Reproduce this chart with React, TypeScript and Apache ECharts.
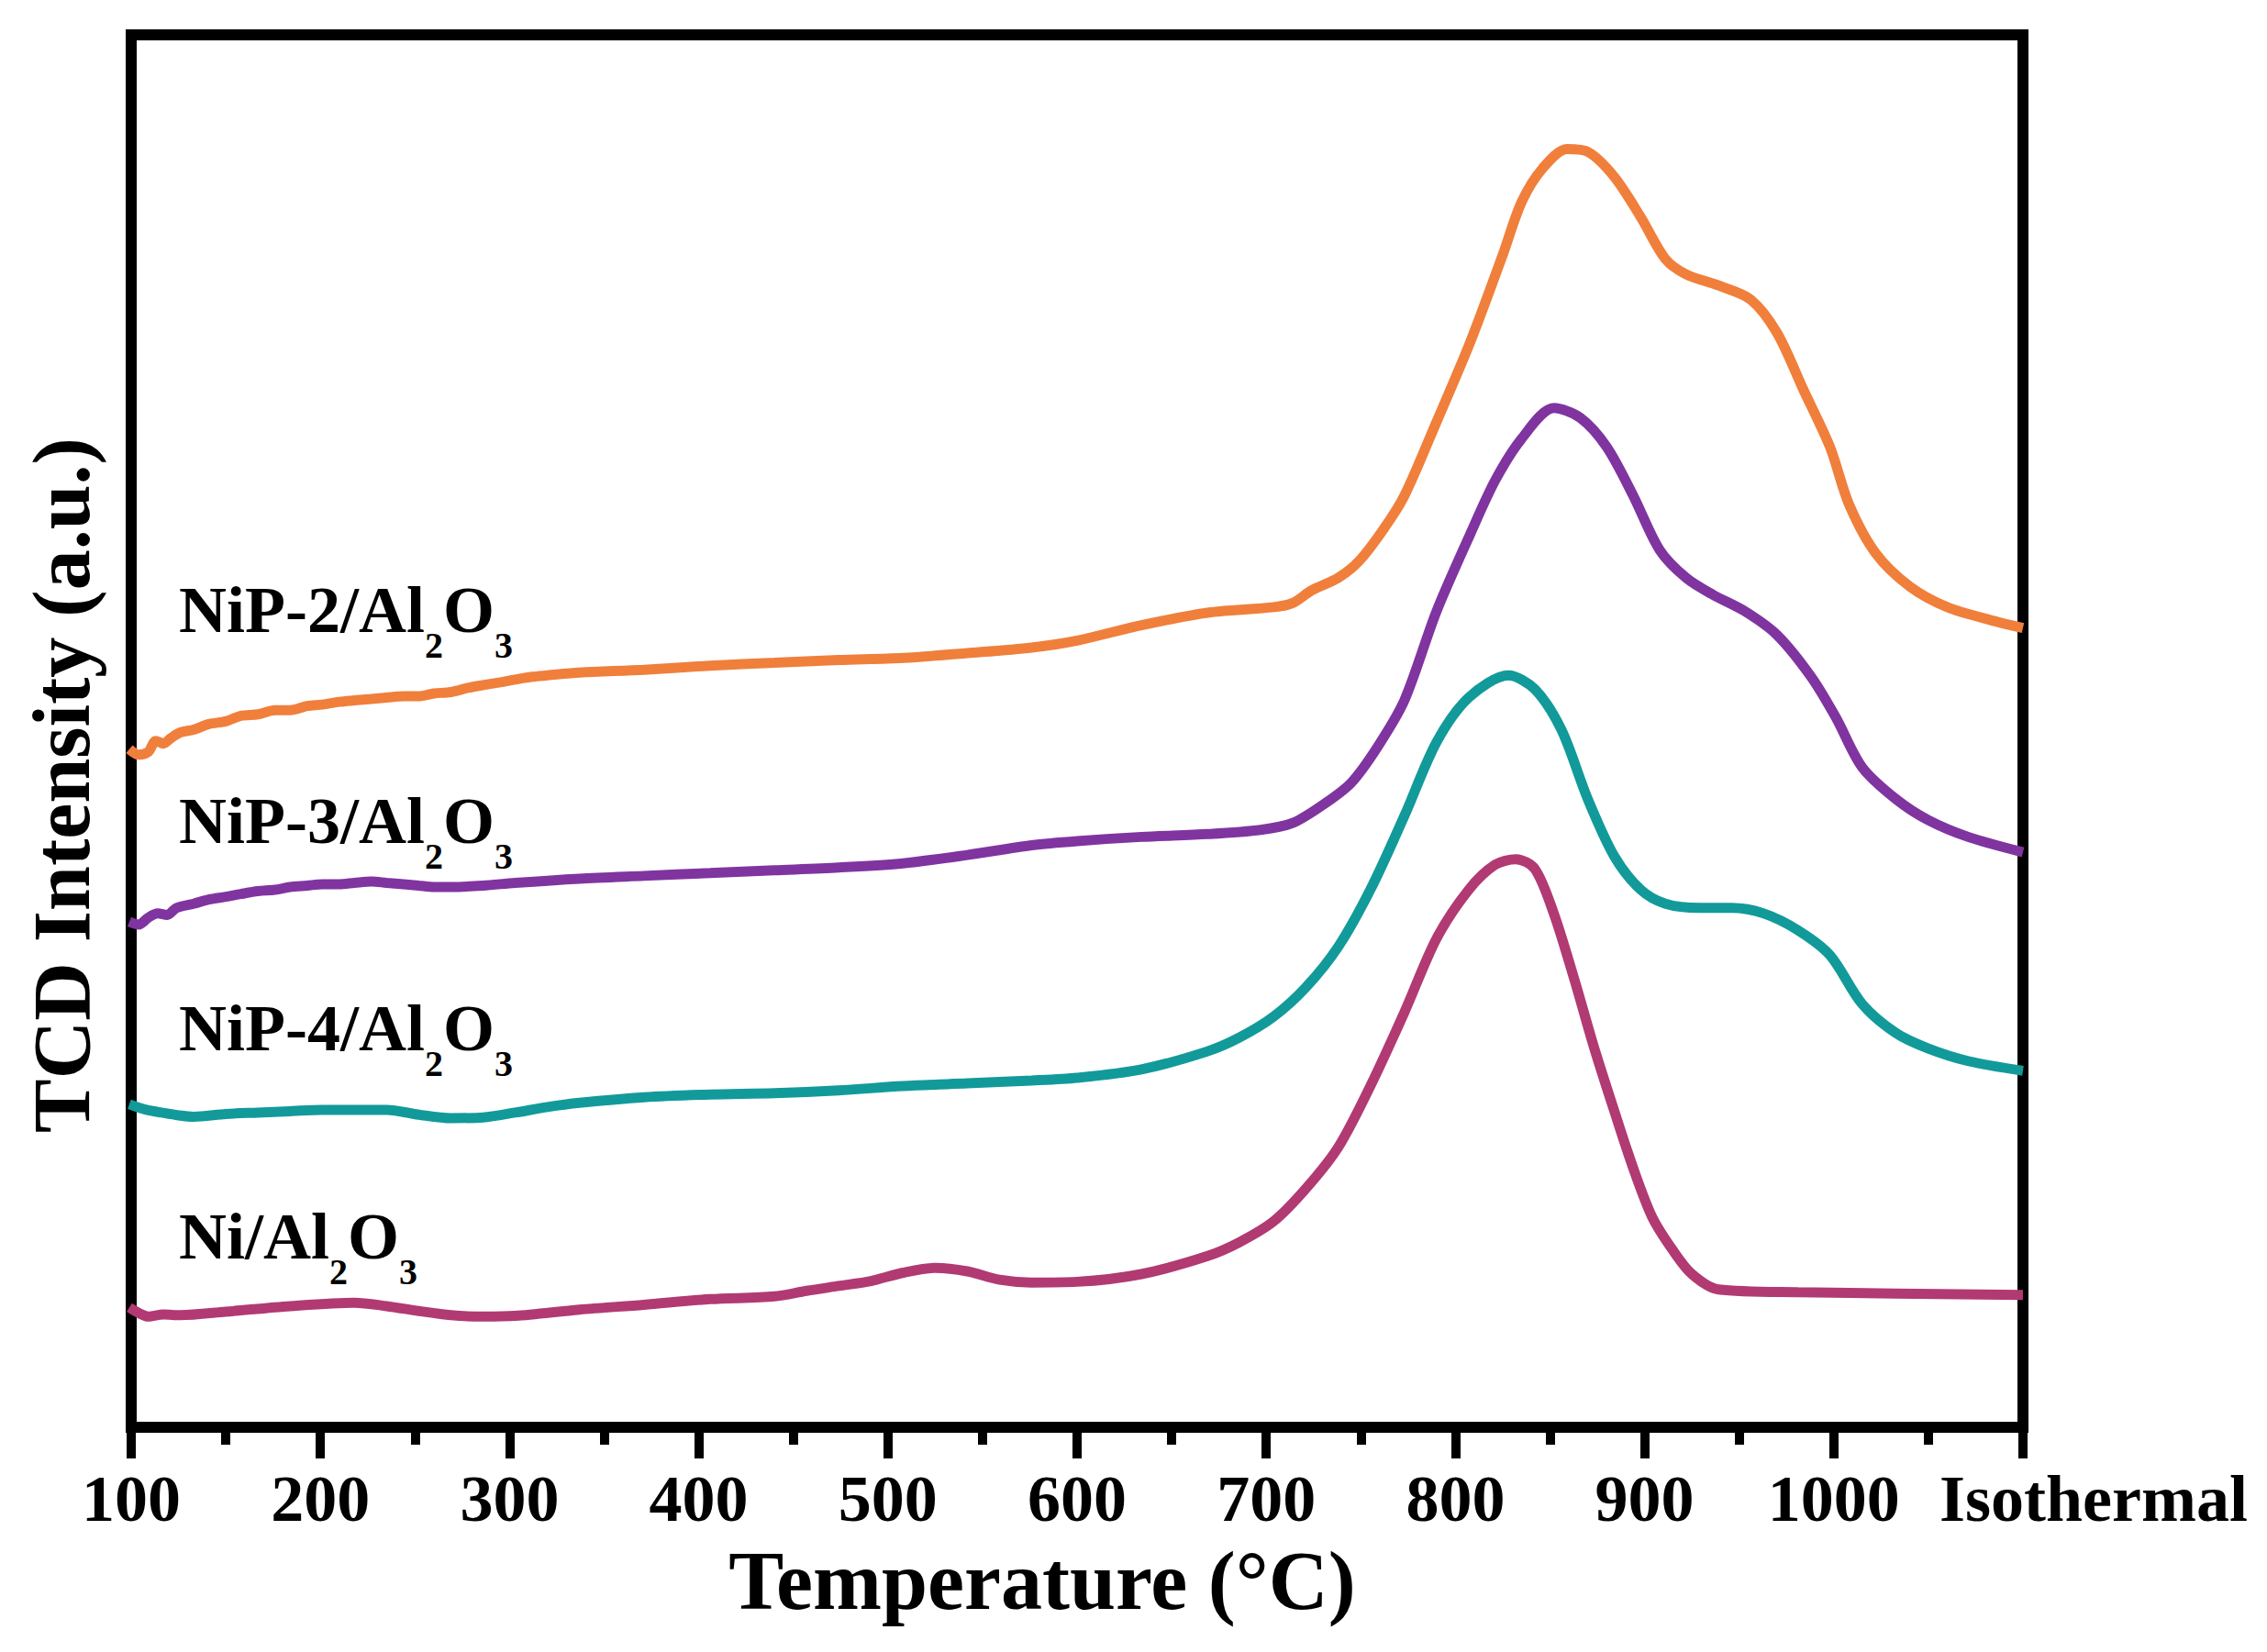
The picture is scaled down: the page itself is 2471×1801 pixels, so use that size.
import React, { useEffect, useRef } from 'react';
import * as echarts from 'echarts';

// temperature (°C) and TCD signal (a.u.); 1100 on the axis = "Isothermal"
const nip2Temp = [99, 104, 109, 113, 117, 121, 126, 133, 141, 150, 158, 167, 176, 184, 193, 201, 210, 218, 227, 235, 244, 252, 260, 269, 278, 286, 295, 303, 312, 320, 337, 371, 406, 440, 474, 508, 542, 576, 600, 634, 669, 704, 714, 724, 738, 749, 762, 773, 790, 808, 825, 835, 846, 859, 870, 884, 898, 911, 922, 939, 956, 970, 984, 998, 1008, 1022, 1040, 1060, 1085, 1100];
const nip2Signal = [48.7, 48.3, 48.5, 49.3, 49.1, 49.5, 49.9, 50.1, 50.5, 50.7, 51.1, 51.2, 51.5, 51.5, 51.8, 51.9, 52.1, 52.2, 52.3, 52.4, 52.5, 52.5, 52.7, 52.8, 53.1, 53.3, 53.5, 53.7, 53.9, 54.0, 54.2, 54.4, 54.7, 54.9, 55.1, 55.25, 55.6, 56.0, 56.5, 57.6, 58.5, 58.9, 59.2, 60.1, 61.0, 62.2, 64.5, 66.9, 72.2, 78.0, 84.2, 88.0, 90.4, 91.8, 91.6, 89.8, 86.9, 83.9, 82.8, 82.0, 81.0, 78.6, 74.5, 70.4, 66.3, 62.8, 60.4, 58.9, 57.9, 57.4];

const nip3Temp = [99, 104, 109, 114, 119, 124, 133, 141, 150, 158, 167, 176, 184, 193, 201, 210, 218, 227, 235, 244, 252, 260, 269, 286, 303, 337, 371, 406, 440, 474, 508, 542, 576, 600, 634, 669, 697, 714, 731, 745, 759, 773, 790, 808, 821, 835, 852, 866, 880, 894, 908, 922, 936, 953, 970, 988, 1001, 1015, 1033, 1050, 1071, 1100];
const nip3Signal = [36.3, 36.1, 36.6, 36.9, 36.8, 37.3, 37.6, 37.9, 38.1, 38.3, 38.5, 38.6, 38.8, 38.9, 39.0, 39.0, 39.1, 39.2, 39.1, 39.0, 38.9, 38.8, 38.8, 38.9, 39.1, 39.4, 39.6, 39.8, 40.0, 40.2, 40.5, 41.1, 41.8, 42.1, 42.4, 42.6, 42.9, 43.4, 44.8, 46.3, 48.9, 52.2, 58.6, 64.2, 68.0, 71.0, 73.2, 72.5, 70.4, 66.9, 63.0, 61.0, 59.8, 58.6, 56.9, 53.9, 51.0, 47.4, 45.1, 43.6, 42.4, 41.3];

const nip4Temp = [99, 108, 116, 125, 133, 150, 167, 184, 201, 218, 235, 252, 269, 286, 303, 320, 337, 371, 406, 440, 474, 508, 542, 576, 600, 634, 669, 686, 704, 721, 738, 755, 773, 790, 807, 828, 842, 856, 870, 884, 898, 911, 929, 946, 963, 981, 998, 1015, 1033, 1050, 1071, 1100];
const nip4Signal = [23.2, 22.8, 22.6, 22.4, 22.3, 22.5, 22.6, 22.7, 22.8, 22.8, 22.8, 22.45, 22.2, 22.25, 22.6, 23.0, 23.3, 23.7, 23.9, 24.0, 24.2, 24.5, 24.7, 24.9, 25.1, 25.7, 27.0, 28.0, 29.5, 31.6, 34.5, 38.6, 43.9, 49.2, 52.4, 54.0, 53.0, 50.1, 45.1, 41.0, 38.6, 37.6, 37.3, 37.3, 36.9, 35.7, 33.9, 30.4, 28.3, 27.2, 26.3, 25.6];

const niTemp = [99, 104, 109, 117, 126, 150, 184, 218, 235, 252, 269, 286, 303, 337, 371, 406, 440, 457, 474, 491, 508, 525, 542, 559, 576, 600, 634, 669, 686, 704, 721, 738, 755, 773, 790, 807, 821, 832, 842, 852, 863, 873, 884, 894, 904, 915, 925, 939, 981, 1100];
const niSignal = [8.6, 8.2, 7.95, 8.1, 8.05, 8.3, 8.7, 8.95, 8.7, 8.35, 8.05, 7.95, 8.0, 8.45, 8.8, 9.2, 9.4, 9.8, 10.15, 10.5, 11.1, 11.45, 11.2, 10.6, 10.4, 10.45, 11.0, 12.3, 13.3, 14.8, 17.15, 20.1, 24.5, 29.8, 35.1, 38.6, 40.4, 40.8, 40.1, 36.9, 32.1, 27.4, 22.7, 18.6, 15.1, 12.7, 11.0, 9.9, 9.7, 9.5];

const sampleNames = ['NiP-2', 'NiP-3', 'NiP-4', 'Ni'];
const sampleColors = ['#F07F3C', '#8034A0', '#129A9A', '#B13A73'];
const tickLabels = ['100', '200', '300', '400', '500', '600', '700', '800', '900', '1000', 'Isothermal'];

const FONT = '"Liberation Serif", "Times New Roman", serif';

const zip = (xs: number[], ys: number[]) => xs.map((x, i) => [x, ys[i]]);

const App: React.FC = () => {
  const chartRef = useRef<HTMLDivElement>(null);

  useEffect(() => {
    document.body.style.margin = '0';
    if (!chartRef.current) return;
    const chart = echarts.init(chartRef.current, null, { renderer: 'svg' });

    const curves = [
      zip(nip2Temp, nip2Signal),
      zip(nip3Temp, nip3Signal),
      zip(nip4Temp, nip4Signal),
      zip(niTemp, niSignal)
    ];

    // sample label text: "NiP-2/Al2O3" with subscripts
    const main = { fontFamily: FONT, fontWeight: 'bold', fontSize: 72, lineHeight: 72, color: '#000' };
    const sub = { fontFamily: FONT, fontWeight: 'bold', fontSize: 40, lineHeight: 40, color: '#000', padding: [76, 0, 0, 0] };
    const labelTops = [607, 837, 1063, 1290];

    const option: echarts.EChartsOption = {
      animation: false,
      backgroundColor: '#fff',
      grid: {
        left: 143,
        top: 38,
        width: 2062,
        height: 1518,
        show: true,
        borderWidth: 12,
        borderColor: '#000'
      },
      xAxis: {
        type: 'value',
        min: 100,
        max: 1100,
        interval: 100,
        name: 'Temperature (°C)',
        nameLocation: 'middle',
        nameGap: 122,
        nameTextStyle: {
          fontFamily: FONT,
          fontWeight: 'bold',
          fontSize: 90,
          color: '#000',
          padding: [0, 76, 0, 0]
        },
        axisLine: { show: false },
        axisTick: { show: true, length: 34, lineStyle: { color: '#000', width: 10 } },
        minorTick: { show: true, splitNumber: 2, length: 19, lineStyle: { color: '#000', width: 10 } },
        splitLine: { show: false },
        axisLabel: {
          margin: 42,
          fontFamily: FONT,
          fontWeight: 'bold',
          fontSize: 72,
          color: '#000',
          formatter: (v: number) => {
            const idx = Math.round((v - 100) / 100);
            return v === 1100 ? '{iso|' + tickLabels[idx] + '}' : tickLabels[idx];
          },
          rich: {
            iso: { fontFamily: FONT, fontWeight: 'bold', fontSize: 72, color: '#000', padding: [0, 0, 0, 154] }
          }
        }
      },
      yAxis: {
        type: 'value',
        min: 0,
        max: 100,
        name: 'TCD Intensity (a.u.)',
        nameLocation: 'middle',
        nameGap: 32,
        nameTextStyle: {
          fontFamily: FONT,
          fontWeight: 'bold',
          fontSize: 88,
          color: '#000',
          padding: [0, 118, 0, 0]
        },
        axisLine: { show: false },
        axisTick: { show: false },
        axisLabel: { show: false },
        splitLine: { show: false }
      },
      graphic: sampleNames.map((name, i) => ({
        type: 'text',
        left: 195,
        top: labelTops[i],
        style: {
          text: '{m|' + name + '/Al}{s|2}{m|O}{s|3}',
          rich: { m: main, s: sub }
        } as any
      })),
      series: curves.map((data, i) => ({
        name: sampleNames[i],
        type: 'line',
        data,
        showSymbol: false,
        smooth: 0.3,
        lineStyle: { color: sampleColors[i], width: 11 },
        itemStyle: { color: sampleColors[i] }
      }))
    };

    chart.setOption(option);

    return () => {
      chart.dispose();
    };
  }, []);

  return <div ref={chartRef} style={{ width: '2471px', height: '1801px' }} />;
};

export default App;
